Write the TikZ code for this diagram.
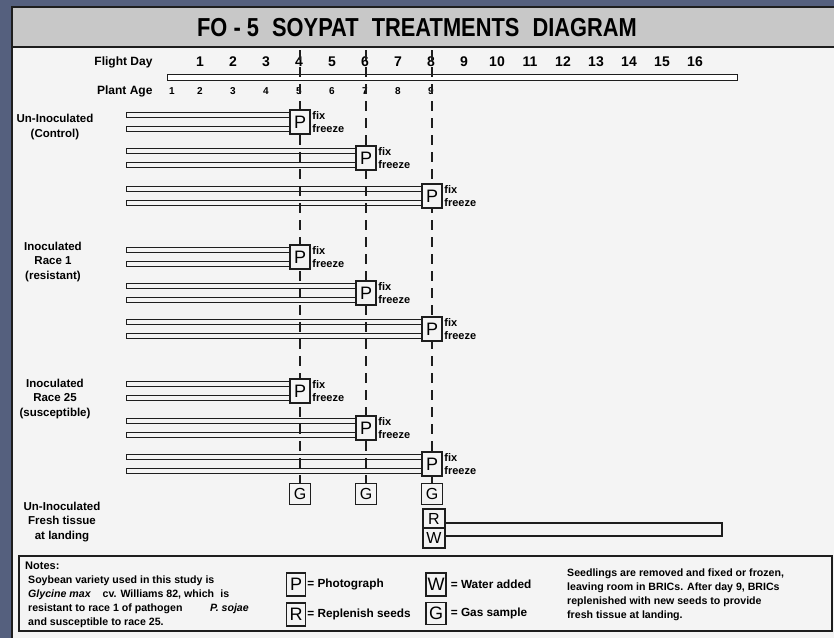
\documentclass[tikz,border=0pt]{standalone}
\usepackage{fontspec}
\setmainfont{Liberation Sans}
\usepackage{graphicx}
\usetikzlibrary{positioning,calc}
\definecolor{spacebg}{HTML}{55607E}
\definecolor{panelbg}{HTML}{F4F4F4}
\definecolor{bandgray}{HTML}{C8C8C8}
\definecolor{inkline}{HTML}{1E1E1E}

\begin{document}
\begin{tikzpicture}[x=1pt, y=-1pt,
    letterBox/.style={draw=inkline, fill=panelbg, line width=1.3pt, inner sep=0pt, minimum width=20pt, minimum height=24pt, font=\fontsize{18}{18}\selectfont},
    smallBox/.style={letterBox, minimum width=21pt, minimum height=21pt, font=\fontsize{16}{16}\selectfont},
    rowLabel/.style={font=\fontsize{11.5}{14.5}\selectfont\bfseries, align=center},
    dayNum/.style={font=\fontsize{14}{14}\selectfont\bfseries},
    ageNum/.style={font=\fontsize{10}{10}\selectfont\bfseries},
    axisLabel/.style={font=\fontsize{12}{12}\selectfont\bfseries, anchor=east},
    tagText/.style={font=\fontsize{11}{11}\selectfont\bfseries, anchor=west, inner sep=0.5pt},
    noteText/.style={font=\fontsize{10.6}{14}\selectfont\bfseries, anchor=north west, align=left, inner sep=0pt},
    legendText/.style={font=\fontsize{11.8}{11.8}\selectfont\bfseries, anchor=west, inner sep=1pt},
    seedBar/.style={draw=inkline, line width=0.9pt},
    dayLine/.style={draw=inkline, line width=1.3pt, dash pattern=on 10pt off 7pt}
]
    \clip (0,0) rectangle (834,638);
    % backdrop and panel
    \fill[spacebg] (0,0) rectangle (834,638);
    \fill[panelbg] (12,7) rectangle (834,638);
    \fill[bandgray] (12,7) rectangle (834,46);
    \draw[inkline, line width=1.2pt] (834,7) -- (12,7) -- (12,638);
    \draw[inkline, line width=2pt] (12,46.5) -- (834,46.5);
    \node[font=\fontsize{26}{26}\selectfont\bfseries] (title) at (417,28)
        {\scalebox{0.84}[1]{FO - 5\hspace{0.6em}SOYPAT\hspace{0.6em}TREATMENTS\hspace{0.6em}DIAGRAM}};

    % time axis
    \node[axisLabel] (flightLbl) at (156,62) {Flight Day};
    \foreach \d in {1,...,16}
        \node[dayNum] (fd\d) at ({167+33*\d},62) {\d};
    \draw[seedBar, fill=white] (167,74) rectangle (737,80);
    \node[axisLabel] (ageLbl) at (156,91) {Plant Age};
    \node[ageNum] (pa1) at (172,91) {1};
    \foreach \a in {2,...,9}
        \node[ageNum] (pa\a) at ({167+33*(\a-1)},91) {\a};

    % gas samples and day lines
    \foreach \d/\x in {4/300, 6/366, 8/432} {
        \node[smallBox] (gas\d) at (\x,494) {G};
        \coordinate (top\d) at (\x,50);
        \draw[dayLine] (top\d) -- (gas\d.north);
    }

    % seedling pairs
    \foreach \c/\x [count=\i] in {122/300, 158/366, 196/432, 257/300, 293/366, 329/432, 391/300, 428/366, 464/432} {
        \node[letterBox] (photo\i) at (\x,\c) {P};
        \draw[seedBar] (126,\c-9.5) rectangle ([yshift=4.5pt]photo\i.west);
        \draw[seedBar] (126,\c+4.5) rectangle ([yshift=-9.5pt]photo\i.west);
        \node[tagText] (fix\i) at ([xshift=1pt,yshift=6pt]photo\i.east) {fix};
        \node[tagText] (frz\i) at ([xshift=1pt,yshift=-7pt]photo\i.east) {freeze};
    }

    \node[rowLabel] (ctrl) at (55,127) {Un-Inoculated\\(Control)};
    \node[rowLabel] (race1) at (53,262) {Inoculated\\Race 1\\(resistant)};
    \node[rowLabel] (race25) at (55,399) {Inoculated\\Race 25\\(susceptible)};
    \node[rowLabel] (fresh) at (62,522) {Un-Inoculated\\Fresh tissue\\at landing};

    % fresh tissue at landing
    \node[smallBox, minimum width=22pt, minimum height=19pt] (repl) at (434,518.5) {R};
    \node[smallBox, minimum width=22pt, minimum height=20pt] (water) at (434,538) {W};
    \draw[seedBar, line width=1.2pt] ([yshift=-4.5pt]repl.east) rectangle (722,536);

    % notes
    \draw[inkline, line width=2pt] (19,556) rectangle (832,631);
    \node[noteText, font=\fontsize{11}{11}\selectfont\bfseries] (notesHead) at (25,562) {Notes:};
    \node[noteText] (notesBody) at (28,576) {Soybean variety used in this study is\\
        \textit{Glycine max}\hspace{1.1em}cv. Williams 82, which\hspace{0.6em}is\\
        resistant to race 1 of pathogen\hspace{2.6em}\textit{P. sojae}\\
        and susceptible to race 25.};

    \node[letterBox, minimum width=19pt, minimum height=23pt] (legP) at (296,584.5) {P};
    \node[legendText] (legPtxt) at (legP.east) {= Photograph};
    \node[letterBox, minimum width=19pt, minimum height=23pt] (legR) at (296,614.5) {R};
    \node[legendText] (legRtxt) at (legR.east) {= Replenish seeds};
    \node[letterBox, minimum width=20pt, minimum height=23pt] (legW) at (436,584.5) {W};
    \node[legendText] (legWtxt) at ([xshift=3pt]legW.east) {= Water added};
    \node[letterBox, minimum width=20pt, minimum height=22pt] (legG) at (436,613.5) {G};
    \node[legendText] (legGtxt) at ([xshift=3pt]legG.east) {= Gas sample};

    \node[noteText] (seedNote) at (567,569) {Seedlings are removed and fixed or frozen,\\
        leaving room in BRICs. After day 9, BRICs\\
        replenished with new seeds to provide\\
        fresh tissue at landing.};
\end{tikzpicture}
\end{document}
